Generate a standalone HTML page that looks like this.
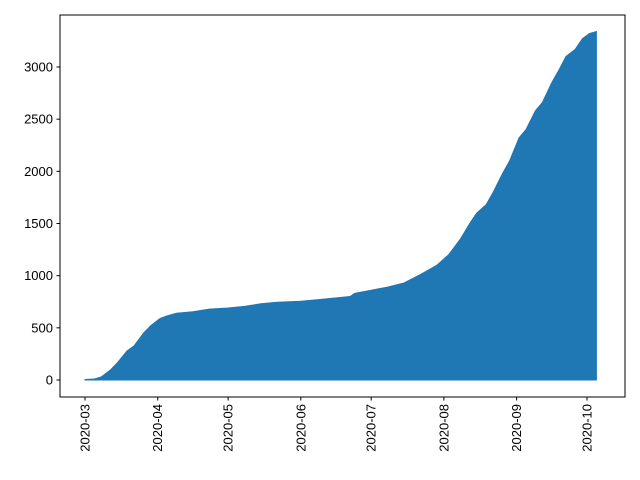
<!DOCTYPE html>
<html><head><meta charset="utf-8"><style>
body{margin:0;background:#fff;}
svg{display:block;font-family:"Liberation Sans","DejaVu Sans",sans-serif;}
</style></head><body>
<svg id="chart" width="640" height="480">
<rect width="640" height="480" fill="#fff"/>
<g id="plot"></g>
</svg>
<script>
const days = [0,4,7,11,14,18,21,25,28,32,35,39,46,53,61,68,75,82,92,99,106,113,115,122,129,136,143,150,155,160,164,167,171,174,178,181,185,188,192,195,199,202,205,209,212,215,218];
const values = [5,10,30,100,170,280,330,450,520,590,615,640,655,680,690,705,730,745,755,770,785,800,830,860,890,930,1010,1100,1200,1350,1500,1600,1680,1800,1980,2100,2320,2400,2580,2660,2850,2970,3100,3170,3270,3320,3340];
const yTicks = [0,500,1000,1500,2000,2500,3000];
const xTickLabels = ["2020-03","2020-04","2020-05","2020-06","2020-07","2020-08","2020-09","2020-10"];
const xTickDays = [0,31,61,92,122,153,184,214];

const NS="http://www.w3.org/2000/svg";
const L=60,R=625,T=15,B=397;
const x0=85, pxPerDay=(587-85)/214;
const xs=d=>x0+d*pxPerDay;
const ys=v=>380-v*(380-67)/3000;
const g=document.getElementById('plot');
function mk(t,a){const e=document.createElementNS(NS,t);for(const k in a)e.setAttribute(k,a[k]);g.appendChild(e);return e;}

let d="M"+xs(days[0])+","+ys(0);
for(let i=0;i<days.length;i++) d+=" L"+xs(days[i]).toFixed(1)+","+ys(values[i]).toFixed(1);
d+=" L"+xs(days[days.length-1]).toFixed(1)+","+ys(0)+" Z";
const area=mk('path',{d:d,fill:'#1f77b4',stroke:'#1f77b4','stroke-width':1});



const frame=mk('rect',{x:L,y:T,width:R-L,height:B-T,fill:'none',stroke:'#000','stroke-width':1});



yTicks.forEach(v=>{
  const y=ys(v);
  const tk=mk('line',{x1:L-3.5,x2:L,y1:y,y2:y,stroke:'#000'});
  
  
  const t=mk('text',{x:L-7,y:y+4.5,'text-anchor':'end','font-size':13});
  t.textContent=v;
  
  
});
xTickDays.forEach((dd,i)=>{
  const x=xs(dd);
  const tk=mk('line',{x1:x,x2:x,y1:B,y2:B+3.5,stroke:'#000'});
  
  
  const t=mk('text',{x:0,y:0,'text-anchor':'end','font-size':13,transform:`translate(${x+4.5},${B+7}) rotate(-90)`});
  t.textContent=xTickLabels[i];
  
  
});
</script>
</body></html>
